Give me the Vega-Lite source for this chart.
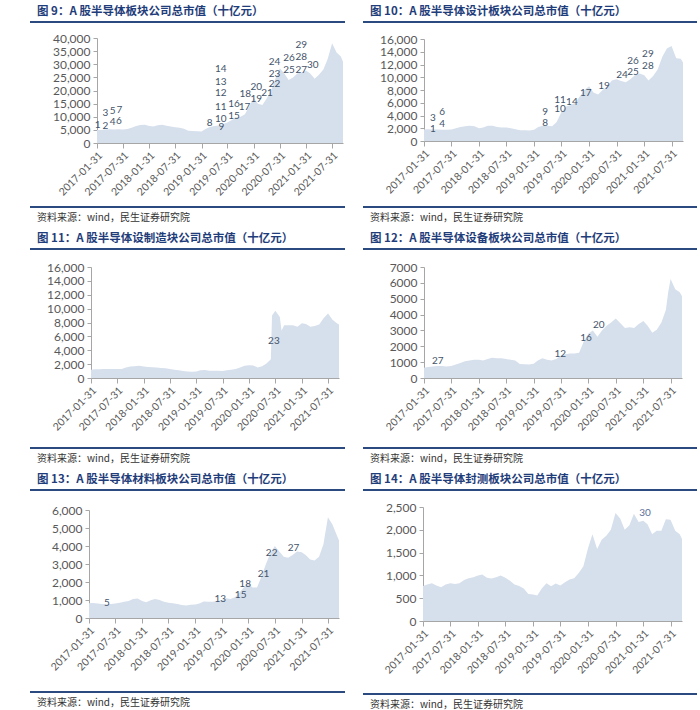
{
"$schema":"https://vega.github.io/schema/vega-lite/v6.json",
"background":"white",
"padding":{"left":30,"top":5,"right":3,"bottom":0},
"config":{
 "font":"Lato",
 "view":{"stroke":null},
 "axis":{"grid":false,"title":null,"labelColor":"#595959","labelFont":"Lato","domainColor":"#a6a6a6","tickColor":"#a6a6a6","labelFlush":false,"labelOverlap":false,"tickCount":40},
 "axisX":{"labelAngle":-45,"labelFontSize":10.5,"tickSize":5,"labelPadding":2},
 "axisY":{"labelFontSize":12,"tickSize":4,"labelPadding":3},
 "title":{"font":"Noto Sans CJK SC","anchor":"start","dx":7}
},
"datasets":{
 "p9":[
{"d":"2017-01-31","v":5000},{"d":"2017-02-28","v":5000},{"d":"2017-03-31","v":5100},{"d":"2017-04-30","v":5200},{"d":"2017-05-31","v":5100},{"d":"2017-06-30","v":5200},{"d":"2017-07-31","v":5100},{"d":"2017-08-31","v":5300},{"d":"2017-09-30","v":5800},{"d":"2017-10-31","v":6500},{"d":"2017-11-30","v":6900},{"d":"2017-12-31","v":7000},
{"d":"2018-01-31","v":6500},{"d":"2018-02-28","v":6300},{"d":"2018-03-31","v":6800},{"d":"2018-04-30","v":7000},{"d":"2018-05-31","v":6600},{"d":"2018-06-30","v":6300},{"d":"2018-07-31","v":6000},{"d":"2018-08-31","v":5800},{"d":"2018-09-30","v":5400},{"d":"2018-10-31","v":4700},{"d":"2018-11-30","v":4600},{"d":"2018-12-31","v":4500},
{"d":"2019-01-31","v":4400},{"d":"2019-02-28","v":5300},{"d":"2019-03-31","v":6100},{"d":"2019-04-30","v":6500},{"d":"2019-05-31","v":6700},{"d":"2019-06-30","v":7200},{"d":"2019-07-31","v":7800},{"d":"2019-08-31","v":8800},{"d":"2019-09-30","v":9800},{"d":"2019-10-31","v":10000},{"d":"2019-11-30","v":11000},{"d":"2019-12-31","v":14000},
{"d":"2020-01-31","v":17200},{"d":"2020-02-29","v":15000},{"d":"2020-03-31","v":14500},{"d":"2020-04-30","v":17000},{"d":"2020-05-31","v":20000},{"d":"2020-06-30","v":24500},{"d":"2020-07-31","v":28500},{"d":"2020-08-31","v":26500},{"d":"2020-09-30","v":24000},{"d":"2020-10-31","v":25000},{"d":"2020-11-30","v":26500},{"d":"2020-12-31","v":27000},
{"d":"2021-01-31","v":27500},{"d":"2021-02-28","v":26500},{"d":"2021-03-31","v":24500},{"d":"2021-04-30","v":26000},{"d":"2021-05-31","v":28000},{"d":"2021-06-30","v":32000},{"d":"2021-07-31","v":38000},{"d":"2021-08-31","v":34500},{"d":"2021-09-30","v":33000},{"d":"2021-10-15","v":31000}],
 "p10":[
{"d":"2017-01-31","v":1800},{"d":"2017-02-28","v":1850},{"d":"2017-03-31","v":1800},{"d":"2017-04-30","v":1800},{"d":"2017-05-31","v":1750},{"d":"2017-06-30","v":1750},{"d":"2017-07-31","v":1800},{"d":"2017-08-31","v":2000},{"d":"2017-09-30","v":2200},{"d":"2017-10-31","v":2300},{"d":"2017-11-30","v":2400},{"d":"2017-12-31","v":2300},
{"d":"2018-01-31","v":2000},{"d":"2018-02-28","v":2100},{"d":"2018-03-31","v":2400},{"d":"2018-04-30","v":2400},{"d":"2018-05-31","v":2200},{"d":"2018-06-30","v":2100},{"d":"2018-07-31","v":2100},{"d":"2018-08-31","v":2000},{"d":"2018-09-30","v":1850},{"d":"2018-10-31","v":1700},{"d":"2018-11-30","v":1700},{"d":"2018-12-31","v":1650},
{"d":"2019-01-31","v":1750},{"d":"2019-02-28","v":2200},{"d":"2019-03-31","v":2400},{"d":"2019-04-30","v":2400},{"d":"2019-05-31","v":2300},{"d":"2019-06-30","v":3000},{"d":"2019-07-31","v":4500},{"d":"2019-08-31","v":5400},{"d":"2019-09-30","v":5600},{"d":"2019-10-31","v":6000},{"d":"2019-11-30","v":7000},{"d":"2019-12-31","v":8000},
{"d":"2020-01-31","v":8600},{"d":"2020-02-29","v":7600},{"d":"2020-03-31","v":7300},{"d":"2020-04-30","v":8000},{"d":"2020-05-31","v":8600},{"d":"2020-06-30","v":9500},{"d":"2020-07-31","v":9700},{"d":"2020-08-31","v":9400},{"d":"2020-09-30","v":9200},{"d":"2020-10-31","v":9700},{"d":"2020-11-30","v":10300},{"d":"2020-12-31","v":10600},
{"d":"2021-01-31","v":10300},{"d":"2021-02-28","v":9500},{"d":"2021-03-31","v":10200},{"d":"2021-04-30","v":11200},{"d":"2021-05-31","v":13200},{"d":"2021-06-30","v":14500},{"d":"2021-07-31","v":14900},{"d":"2021-08-31","v":13000},{"d":"2021-09-30","v":12900},{"d":"2021-10-15","v":12300}],
 "p11":[
{"d":"2017-01-31","v":1200},{"d":"2017-02-28","v":1250},{"d":"2017-03-31","v":1250},{"d":"2017-04-30","v":1300},{"d":"2017-05-31","v":1300},{"d":"2017-06-30","v":1300},{"d":"2017-07-31","v":1300},{"d":"2017-08-31","v":1300},{"d":"2017-09-30","v":1500},{"d":"2017-10-31","v":1650},{"d":"2017-11-30","v":1700},{"d":"2017-12-31","v":1750},
{"d":"2018-01-31","v":1650},{"d":"2018-02-28","v":1600},{"d":"2018-03-31","v":1550},{"d":"2018-04-30","v":1500},{"d":"2018-05-31","v":1450},{"d":"2018-06-30","v":1400},{"d":"2018-07-31","v":1300},{"d":"2018-08-31","v":1200},{"d":"2018-09-30","v":1100},{"d":"2018-10-31","v":1000},{"d":"2018-11-30","v":950},{"d":"2018-12-31","v":900},
{"d":"2019-01-31","v":950},{"d":"2019-02-28","v":1100},{"d":"2019-03-31","v":1150},{"d":"2019-04-30","v":1050},{"d":"2019-05-31","v":1050},{"d":"2019-06-30","v":1050},{"d":"2019-07-31","v":1000},{"d":"2019-08-31","v":1100},{"d":"2019-09-30","v":1200},{"d":"2019-10-31","v":1300},{"d":"2019-11-30","v":1500},{"d":"2019-12-31","v":1750},
{"d":"2020-01-31","v":1850},{"d":"2020-02-29","v":1800},{"d":"2020-03-31","v":1500},{"d":"2020-04-30","v":1700},{"d":"2020-05-31","v":2100},{"d":"2020-06-30","v":2700},{"d":"2020-07-08","v":9000},{"d":"2020-07-31","v":9700},{"d":"2020-08-31","v":8800},{"d":"2020-09-12","v":6800},{"d":"2020-09-30","v":7600},{"d":"2020-10-31","v":7600},{"d":"2020-11-30","v":7600},{"d":"2020-12-31","v":7400},
{"d":"2021-01-31","v":7900},{"d":"2021-02-28","v":7800},{"d":"2021-03-31","v":7400},{"d":"2021-04-30","v":7500},{"d":"2021-05-31","v":7700},{"d":"2021-06-30","v":8600},{"d":"2021-07-31","v":9300},{"d":"2021-08-31","v":8400},{"d":"2021-09-30","v":7900},{"d":"2021-10-15","v":7700}],
 "p12":[
{"d":"2017-01-31","v":650},{"d":"2017-02-28","v":700},{"d":"2017-03-31","v":730},{"d":"2017-04-30","v":750},{"d":"2017-05-31","v":750},{"d":"2017-06-30","v":720},{"d":"2017-07-31","v":750},{"d":"2017-08-31","v":850},{"d":"2017-09-30","v":950},{"d":"2017-10-31","v":1050},{"d":"2017-11-30","v":1100},{"d":"2017-12-31","v":1150},
{"d":"2018-01-31","v":1150},{"d":"2018-02-28","v":1100},{"d":"2018-03-31","v":1200},{"d":"2018-04-30","v":1280},{"d":"2018-05-31","v":1250},{"d":"2018-06-30","v":1250},{"d":"2018-07-31","v":1200},{"d":"2018-08-31","v":1150},{"d":"2018-09-30","v":1100},{"d":"2018-10-31","v":880},{"d":"2018-11-30","v":870},{"d":"2018-12-31","v":850},
{"d":"2019-01-31","v":900},{"d":"2019-02-28","v":1100},{"d":"2019-03-31","v":1250},{"d":"2019-04-30","v":1150},{"d":"2019-05-31","v":1100},{"d":"2019-06-30","v":1200},{"d":"2019-07-31","v":1400},{"d":"2019-08-31","v":1500},{"d":"2019-09-30","v":1550},{"d":"2019-10-31","v":1550},{"d":"2019-11-30","v":1600},{"d":"2019-12-31","v":2300},
{"d":"2020-01-31","v":2800},{"d":"2020-02-29","v":3000},{"d":"2020-03-31","v":2600},{"d":"2020-04-30","v":3000},{"d":"2020-05-31","v":3300},{"d":"2020-06-30","v":3500},{"d":"2020-07-31","v":3750},{"d":"2020-08-31","v":3450},{"d":"2020-09-30","v":3150},{"d":"2020-10-31","v":3200},{"d":"2020-11-30","v":3150},{"d":"2020-12-31","v":3400},
{"d":"2021-01-31","v":3600},{"d":"2021-02-28","v":3300},{"d":"2021-03-31","v":2850},{"d":"2021-04-30","v":3050},{"d":"2021-05-31","v":3500},{"d":"2021-06-30","v":4300},{"d":"2021-07-15","v":5400},{"d":"2021-07-31","v":6250},{"d":"2021-08-31","v":5600},{"d":"2021-09-30","v":5400},{"d":"2021-10-15","v":5150}],
 "p13":[
{"d":"2017-01-31","v":820},{"d":"2017-02-28","v":830},{"d":"2017-03-31","v":800},{"d":"2017-04-30","v":780},{"d":"2017-05-31","v":770},{"d":"2017-06-30","v":780},{"d":"2017-07-31","v":800},{"d":"2017-08-31","v":850},{"d":"2017-09-30","v":900},{"d":"2017-10-31","v":950},{"d":"2017-11-30","v":1050},{"d":"2017-12-31","v":1080},
{"d":"2018-01-31","v":950},{"d":"2018-02-28","v":880},{"d":"2018-03-31","v":980},{"d":"2018-04-30","v":1050},{"d":"2018-05-31","v":1000},{"d":"2018-06-30","v":900},{"d":"2018-07-31","v":850},{"d":"2018-08-31","v":820},{"d":"2018-09-30","v":780},{"d":"2018-10-31","v":720},{"d":"2018-11-30","v":700},{"d":"2018-12-31","v":730},
{"d":"2019-01-31","v":750},{"d":"2019-02-28","v":800},{"d":"2019-03-31","v":920},{"d":"2019-04-30","v":900},{"d":"2019-05-31","v":900},{"d":"2019-06-30","v":950},{"d":"2019-07-31","v":1000},{"d":"2019-08-31","v":1100},{"d":"2019-09-30","v":1050},{"d":"2019-10-31","v":1150},{"d":"2019-11-30","v":1400},{"d":"2019-12-31","v":1700},
{"d":"2020-01-31","v":1900},{"d":"2020-02-29","v":1700},{"d":"2020-03-31","v":1700},{"d":"2020-04-30","v":2300},{"d":"2020-05-31","v":3000},{"d":"2020-06-30","v":3600},{"d":"2020-07-31","v":4000},{"d":"2020-08-31","v":3700},{"d":"2020-09-30","v":3400},{"d":"2020-10-31","v":3350},{"d":"2020-11-30","v":3500},{"d":"2020-12-31","v":3700},
{"d":"2021-01-31","v":3650},{"d":"2021-02-28","v":3500},{"d":"2021-03-31","v":3250},{"d":"2021-04-30","v":3200},{"d":"2021-05-31","v":3400},{"d":"2021-06-30","v":4100},{"d":"2021-07-31","v":5600},{"d":"2021-08-31","v":5200},{"d":"2021-09-30","v":4600},{"d":"2021-10-15","v":4300}],
 "p14":[
{"d":"2017-01-31","v":770},{"d":"2017-02-28","v":800},{"d":"2017-03-31","v":830},{"d":"2017-04-30","v":780},{"d":"2017-05-31","v":740},{"d":"2017-06-30","v":800},{"d":"2017-07-31","v":830},{"d":"2017-08-31","v":810},{"d":"2017-09-30","v":830},{"d":"2017-10-31","v":900},{"d":"2017-11-30","v":940},{"d":"2017-12-31","v":960},
{"d":"2018-01-31","v":1000},{"d":"2018-02-28","v":1020},{"d":"2018-03-31","v":950},{"d":"2018-04-30","v":930},{"d":"2018-05-31","v":960},{"d":"2018-06-30","v":1000},{"d":"2018-07-31","v":950},{"d":"2018-08-31","v":880},{"d":"2018-09-30","v":800},{"d":"2018-10-31","v":770},{"d":"2018-11-30","v":710},{"d":"2018-12-31","v":590},
{"d":"2019-01-31","v":580},{"d":"2019-02-28","v":560},{"d":"2019-03-31","v":720},{"d":"2019-04-30","v":830},{"d":"2019-05-31","v":760},{"d":"2019-06-30","v":820},{"d":"2019-07-31","v":780},{"d":"2019-08-31","v":850},{"d":"2019-09-30","v":910},{"d":"2019-10-31","v":940},{"d":"2019-11-30","v":1050},{"d":"2019-12-31","v":1200},
{"d":"2020-01-31","v":1600},{"d":"2020-02-29","v":1900},{"d":"2020-03-31","v":1580},{"d":"2020-04-30","v":1780},{"d":"2020-05-31","v":1870},{"d":"2020-06-30","v":2000},{"d":"2020-07-31","v":2370},{"d":"2020-08-31","v":2250},{"d":"2020-09-30","v":2000},{"d":"2020-10-31","v":2100},{"d":"2020-11-30","v":2350},{"d":"2020-12-31","v":2170},
{"d":"2021-01-31","v":2200},{"d":"2021-02-28","v":2120},{"d":"2021-03-31","v":1900},{"d":"2021-04-30","v":1980},{"d":"2021-05-31","v":1980},{"d":"2021-06-30","v":2230},{"d":"2021-07-31","v":2220},{"d":"2021-08-31","v":1980},{"d":"2021-09-30","v":1900},{"d":"2021-10-15","v":1800}],
 "l9":[
{"d":"2017-02-05","v":6700,"t":"1"},{"d":"2017-03-31","v":6300,"t":"2"},{"d":"2017-03-31","v":11300,"t":"3"},{"d":"2017-05-21","v":7900,"t":"4"},{"d":"2017-05-21","v":12300,"t":"5"},{"d":"2017-07-03","v":8200,"t":"6"},{"d":"2017-07-06","v":12700,"t":"7"},
{"d":"2019-03-28","v":7500,"t":"8"},{"d":"2019-06-18","v":6000,"t":"9"},{"d":"2019-06-15","v":9200,"t":"10"},{"d":"2019-06-15","v":13800,"t":"11"},{"d":"2019-06-15","v":18900,"t":"12"},{"d":"2019-06-15","v":23300,"t":"13"},{"d":"2019-06-15","v":28100,"t":"14"},
{"d":"2019-09-15","v":10300,"t":"15"},{"d":"2019-09-15","v":14800,"t":"16"},{"d":"2019-11-27","v":13800,"t":"17"},{"d":"2019-12-03","v":18600,"t":"18"},{"d":"2020-02-17","v":16700,"t":"19"},{"d":"2020-02-17","v":21500,"t":"20"},{"d":"2020-05-03","v":19200,"t":"21"},
{"d":"2020-06-24","v":22400,"t":"22"},{"d":"2020-06-24","v":26200,"t":"23"},{"d":"2020-06-24","v":30800,"t":"24"},{"d":"2020-10-03","v":27700,"t":"25"},{"d":"2020-10-03","v":32500,"t":"26"},{"d":"2020-12-27","v":27800,"t":"27"},{"d":"2020-12-27","v":32800,"t":"28"},{"d":"2020-12-27","v":37500,"t":"29"},{"d":"2021-03-18","v":29600,"t":"30"}],
 "l10":[
{"d":"2017-03-31","v":1850,"t":"1"},{"d":"2017-03-31","v":3600,"t":"3"},{"d":"2017-05-31","v":2700,"t":"4"},{"d":"2017-05-31","v":4500,"t":"6"},{"d":"2019-04-15","v":2800,"t":"8"},{"d":"2019-04-15","v":4500,"t":"9"},{"d":"2019-07-22","v":5000,"t":"10"},{"d":"2019-07-22","v":6500,"t":"11"},
{"d":"2019-10-09","v":6100,"t":"14"},{"d":"2020-01-09","v":7500,"t":"17"},{"d":"2020-05-09","v":8700,"t":"19"},{"d":"2020-09-06","v":10300,"t":"24"},{"d":"2020-11-18","v":10900,"t":"25"},{"d":"2020-11-18","v":12500,"t":"26"},{"d":"2021-02-24","v":11700,"t":"28"},{"d":"2021-02-24","v":13600,"t":"29"}],
 "l11":[{"d":"2020-07-21","v":5400,"t":"23"}],
 "l12":[{"d":"2017-05-03","v":1050,"t":"27"},{"d":"2019-07-28","v":1530,"t":"12"},{"d":"2020-01-15","v":2520,"t":"16"},{"d":"2020-04-09","v":3320,"t":"20"}],
 "l13":[{"d":"2017-06-03","v":840,"t":"5"},{"d":"2019-07-22","v":1030,"t":"13"},{"d":"2019-12-09","v":1260,"t":"15"},{"d":"2020-01-09","v":1910,"t":"18"},{"d":"2020-05-15","v":2440,"t":"21"},{"d":"2020-07-09","v":3600,"t":"22"},{"d":"2020-12-06","v":3880,"t":"27"}],
 "l14":[{"d":"2021-02-12","v":2370,"t":"30"}]
},
"spacing":9,
"vconcat":[
 {"hconcat":[
  {"spacing":9,"columns":1,"align":"none","concat":[
   {"width":315,"height":2,"data":{"values":[{}]},"mark":{"type":"rect","color":"#2b4a80"},"encoding":{},"title":{"text":"图 9：A 股半导体板块公司总市值（十亿元）","fontSize":11.5,"fontWeight":"bold","color":"#1f3d7a","offset":4}},
   {"spacing":8,"columns":1,"align":"none","concat":[
    {"width":313,"height":105,"layer":[
     {"data":{"name":"p9"},"mark":{"type":"area","color":"#d6dfec"},"encoding":{
      "x":{"field":"d","type":"temporal","scale":{"range":[67,313],"domain":[{"year":2017,"month":1,"date":31},{"year":2021,"month":10,"date":15}]},"axis":{"format":"%Y-%m-%d","labelOverlap":false,"values":[{"year":2017,"month":1,"date":31},{"year":2017,"month":7,"date":31},{"year":2018,"month":1,"date":31},{"year":2018,"month":7,"date":31},{"year":2019,"month":1,"date":31},{"year":2019,"month":7,"date":31},{"year":2020,"month":1,"date":31},{"year":2020,"month":7,"date":31},{"year":2021,"month":1,"date":31},{"year":2021,"month":7,"date":31}]}},
      "y":{"field":"v","type":"quantitative","scale":{"domain":[0,40000],"nice":false},"axis":{"format":",d","labelOverlap":false,"offset":-67,"values":[0,5000,10000,15000,20000,25000,30000,35000,40000]}}}},
     {"data":{"name":"l9"},"mark":{"type":"text","fontSize":10,"color":"#44546a"},"encoding":{"x":{"field":"d","type":"temporal"},"y":{"field":"v","type":"quantitative"},"text":{"field":"t"}}}
    ]},
    {"width":315,"height":2,"data":{"values":[{}]},"mark":{"type":"rect","color":"#2b4a80"},"encoding":{},"title":{"text":"资料来源：wind，民生证券研究院","orient":"bottom","fontSize":10,"fontWeight":"normal","color":"#333333","offset":5}}
   ]}
  ]},
  {"spacing":10,"columns":1,"align":"none","concat":[
   {"width":334,"height":2,"data":{"values":[{}]},"mark":{"type":"rect","color":"#2b4a80"},"encoding":{},"title":{"text":"图 10：A 股半导体设计板块公司总市值（十亿元）","fontSize":11.5,"fontWeight":"bold","color":"#1f3d7a","offset":4}},
   {"spacing":10,"columns":1,"align":"none","concat":[
    {"width":320,"height":102,"layer":[
     {"data":{"name":"p10"},"mark":{"type":"area","color":"#d6dfec"},"encoding":{
      "x":{"field":"d","type":"temporal","scale":{"range":[61,320],"domain":[{"year":2017,"month":1,"date":31},{"year":2021,"month":10,"date":15}]},"axis":{"format":"%Y-%m-%d","labelOverlap":false,"values":[{"year":2017,"month":1,"date":31},{"year":2017,"month":7,"date":31},{"year":2018,"month":1,"date":31},{"year":2018,"month":7,"date":31},{"year":2019,"month":1,"date":31},{"year":2019,"month":7,"date":31},{"year":2020,"month":1,"date":31},{"year":2020,"month":7,"date":31},{"year":2021,"month":1,"date":31},{"year":2021,"month":7,"date":31}]}},
      "y":{"field":"v","type":"quantitative","scale":{"domain":[0,16000],"nice":false},"axis":{"format":",d","labelOverlap":false,"offset":-61,"values":[0,2000,4000,6000,8000,10000,12000,14000,16000]}}}},
     {"data":{"name":"l10"},"mark":{"type":"text","fontSize":10,"color":"#44546a"},"encoding":{"x":{"field":"d","type":"temporal"},"y":{"field":"v","type":"quantitative"},"text":{"field":"t"}}}
    ]},
    {"width":334,"height":2,"data":{"values":[{}]},"mark":{"type":"rect","color":"#2b4a80"},"encoding":{},"title":{"text":"资料来源：wind，民生证券研究院","orient":"bottom","fontSize":10,"fontWeight":"normal","color":"#333333","offset":5}}
   ]}
  ]}
 ],"spacing":18},
 {"hconcat":[
  {"spacing":11,"columns":1,"align":"none","concat":[
   {"width":315,"height":2,"data":{"values":[{}]},"mark":{"type":"rect","color":"#2b4a80"},"encoding":{},"title":{"text":"图 11：A 股半导体设制造块公司总市值（十亿元）","fontSize":11.5,"fontWeight":"bold","color":"#1f3d7a","offset":4}},
   {"spacing":14,"columns":1,"align":"none","concat":[
    {"width":309,"height":111,"layer":[
     {"data":{"name":"p11"},"mark":{"type":"area","color":"#d6dfec"},"encoding":{
      "x":{"field":"d","type":"temporal","scale":{"range":[61,309],"domain":[{"year":2017,"month":1,"date":31},{"year":2021,"month":10,"date":15}]},"axis":{"format":"%Y-%m-%d","labelOverlap":false,"values":[{"year":2017,"month":1,"date":31},{"year":2017,"month":7,"date":31},{"year":2018,"month":1,"date":31},{"year":2018,"month":7,"date":31},{"year":2019,"month":1,"date":31},{"year":2019,"month":7,"date":31},{"year":2020,"month":1,"date":31},{"year":2020,"month":7,"date":31},{"year":2021,"month":1,"date":31},{"year":2021,"month":7,"date":31}]}},
      "y":{"field":"v","type":"quantitative","scale":{"domain":[0,16000],"nice":false},"axis":{"format":",d","labelOverlap":false,"offset":-61,"values":[0,2000,4000,6000,8000,10000,12000,14000,16000]}}}},
     {"data":{"name":"l11"},"mark":{"type":"text","fontSize":10,"color":"#44546a"},"encoding":{"x":{"field":"d","type":"temporal"},"y":{"field":"v","type":"quantitative"},"text":{"field":"t"}}}
    ]},
    {"width":315,"height":2,"data":{"values":[{}]},"mark":{"type":"rect","color":"#2b4a80"},"encoding":{},"title":{"text":"资料来源：wind，民生证券研究院","orient":"bottom","fontSize":10,"fontWeight":"normal","color":"#333333","offset":5}}
   ]}
  ]},
  {"spacing":11,"columns":1,"align":"none","concat":[
   {"width":334,"height":2,"data":{"values":[{}]},"mark":{"type":"rect","color":"#2b4a80"},"encoding":{},"title":{"text":"图 12：A 股半导体设备板块公司总市值（十亿元）","fontSize":11.5,"fontWeight":"bold","color":"#1f3d7a","offset":4}},
   {"spacing":14,"columns":1,"align":"none","concat":[
    {"width":319,"height":111,"layer":[
     {"data":{"name":"p12"},"mark":{"type":"area","color":"#d6dfec"},"encoding":{
      "x":{"field":"d","type":"temporal","scale":{"range":[61,319],"domain":[{"year":2017,"month":1,"date":31},{"year":2021,"month":10,"date":15}]},"axis":{"format":"%Y-%m-%d","labelOverlap":false,"values":[{"year":2017,"month":1,"date":31},{"year":2017,"month":7,"date":31},{"year":2018,"month":1,"date":31},{"year":2018,"month":7,"date":31},{"year":2019,"month":1,"date":31},{"year":2019,"month":7,"date":31},{"year":2020,"month":1,"date":31},{"year":2020,"month":7,"date":31},{"year":2021,"month":1,"date":31},{"year":2021,"month":7,"date":31}]}},
      "y":{"field":"v","type":"quantitative","scale":{"domain":[0,7000],"nice":false},"axis":{"format":"d","labelOverlap":false,"offset":-61,"values":[0,1000,2000,3000,4000,5000,6000,7000]}}}},
     {"data":{"name":"l12"},"mark":{"type":"text","fontSize":10,"color":"#44546a"},"encoding":{"x":{"field":"d","type":"temporal"},"y":{"field":"v","type":"quantitative"},"text":{"field":"t"}}}
    ]},
    {"width":334,"height":2,"data":{"values":[{}]},"mark":{"type":"rect","color":"#2b4a80"},"encoding":{},"title":{"text":"资料来源：wind，民生证券研究院","orient":"bottom","fontSize":10,"fontWeight":"normal","color":"#333333","offset":5}}
   ]}
  ]}
 ],"spacing":18},
 {"hconcat":[
  {"spacing":13,"columns":1,"align":"none","concat":[
   {"width":315,"height":2,"data":{"values":[{}]},"mark":{"type":"rect","color":"#2b4a80"},"encoding":{},"title":{"text":"图 13：A 股半导体材料板块公司总市值（十亿元）","fontSize":11.5,"fontWeight":"bold","color":"#1f3d7a","offset":4}},
   {"spacing":18,"columns":1,"align":"none","concat":[
    {"width":309,"height":108,"layer":[
     {"data":{"name":"p13"},"mark":{"type":"area","color":"#d6dfec"},"encoding":{
      "x":{"field":"d","type":"temporal","scale":{"range":[59,309],"domain":[{"year":2017,"month":1,"date":31},{"year":2021,"month":10,"date":15}]},"axis":{"format":"%Y-%m-%d","labelOverlap":false,"values":[{"year":2017,"month":1,"date":31},{"year":2017,"month":7,"date":31},{"year":2018,"month":1,"date":31},{"year":2018,"month":7,"date":31},{"year":2019,"month":1,"date":31},{"year":2019,"month":7,"date":31},{"year":2020,"month":1,"date":31},{"year":2020,"month":7,"date":31},{"year":2021,"month":1,"date":31},{"year":2021,"month":7,"date":31}]}},
      "y":{"field":"v","type":"quantitative","scale":{"domain":[0,6000],"nice":false},"axis":{"format":",d","labelOverlap":false,"offset":-59,"values":[0,1000,2000,3000,4000,5000,6000]}}}},
     {"data":{"name":"l13"},"mark":{"type":"text","fontSize":10,"color":"#44546a"},"encoding":{"x":{"field":"d","type":"temporal"},"y":{"field":"v","type":"quantitative"},"text":{"field":"t"}}}
    ]},
    {"width":315,"height":2,"data":{"values":[{}]},"mark":{"type":"rect","color":"#2b4a80"},"encoding":{},"title":{"text":"资料来源：wind，民生证券研究院","orient":"bottom","fontSize":10,"fontWeight":"normal","color":"#333333","offset":5}}
   ]}
  ]},
  {"spacing":10,"columns":1,"align":"none","concat":[
   {"width":334,"height":2,"data":{"values":[{}]},"mark":{"type":"rect","color":"#2b4a80"},"encoding":{},"title":{"text":"图 14：A 股半导体封测板块公司总市值（十亿元）","fontSize":11.5,"fontWeight":"bold","color":"#1f3d7a","offset":4}},
   {"spacing":17,"columns":1,"align":"none","concat":[
    {"width":319,"height":114,"layer":[
     {"data":{"name":"p14"},"mark":{"type":"area","color":"#d6dfec"},"encoding":{
      "x":{"field":"d","type":"temporal","scale":{"range":[60,319],"domain":[{"year":2017,"month":1,"date":31},{"year":2021,"month":10,"date":15}]},"axis":{"format":"%Y-%m-%d","labelOverlap":false,"values":[{"year":2017,"month":1,"date":31},{"year":2017,"month":7,"date":31},{"year":2018,"month":1,"date":31},{"year":2018,"month":7,"date":31},{"year":2019,"month":1,"date":31},{"year":2019,"month":7,"date":31},{"year":2020,"month":1,"date":31},{"year":2020,"month":7,"date":31},{"year":2021,"month":1,"date":31},{"year":2021,"month":7,"date":31}]}},
      "y":{"field":"v","type":"quantitative","scale":{"domain":[0,2500],"nice":false},"axis":{"format":",d","labelOverlap":false,"offset":-60,"values":[0,500,1000,1500,2000,2500]}}}},
     {"data":{"name":"l14"},"mark":{"type":"text","fontSize":10,"color":"#5b7096"},"encoding":{"x":{"field":"d","type":"temporal"},"y":{"field":"v","type":"quantitative"},"text":{"field":"t"}}}
    ]},
    {"width":334,"height":2,"data":{"values":[{}]},"mark":{"type":"rect","color":"#2b4a80"},"encoding":{},"title":{"text":"资料来源：wind，民生证券研究院","orient":"bottom","fontSize":10,"fontWeight":"normal","color":"#333333","offset":5}}
   ]}
  ]}
 ],"spacing":18}
]
}
